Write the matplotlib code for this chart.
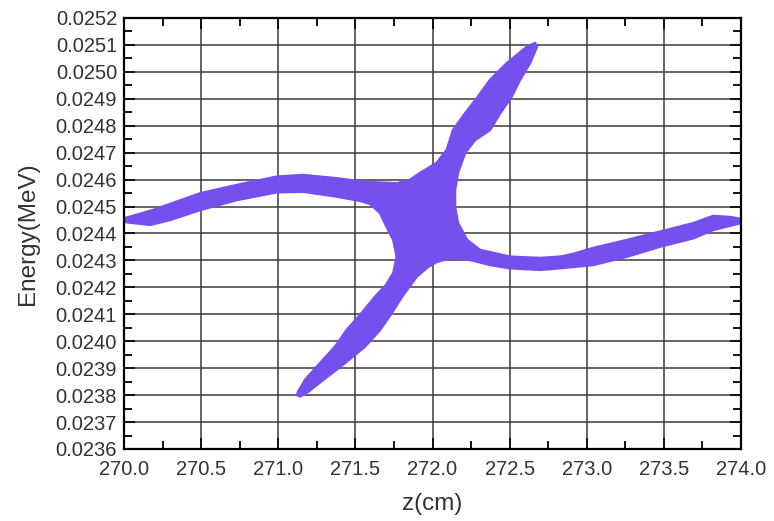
import matplotlib
matplotlib.use("Agg")
import matplotlib.pyplot as plt
from matplotlib.patches import Polygon
from matplotlib.ticker import MultipleLocator, FormatStrFormatter

plt.rcParams['font.family'] = ['Liberation Sans', 'DejaVu Sans']

# outline of the beam's phase-space distribution, traced around the shape:
# left arm top -> upper arm -> right arm -> lower arm -> left arm bottom
z_edge = [270.000, 270.188, 270.493, 270.731, 270.990, 271.162, 271.379, 271.551,
          271.768, 271.854, 271.919, 272.027, 272.092, 272.113, 272.133, 272.211,
          272.295, 272.373, 272.481, 272.611, 272.665,
          272.677, 272.632, 272.567, 272.513, 272.438, 272.373, 272.276, 272.211,
          272.165, 272.146, 272.146, 272.165, 272.224, 272.308, 272.502, 272.697,
          272.827, 272.911, 273.041, 273.261, 273.475, 273.689, 273.819, 273.929,
          274.000,
          274.000, 273.896, 273.819, 273.689, 273.475, 273.261, 273.041, 272.827,
          272.697, 272.502, 272.373, 272.243, 272.113, 272.027, 271.971,
          271.898, 271.802, 271.736, 271.660, 271.562, 271.433, 271.290, 271.193,
          271.141, 271.122,
          271.128, 271.173, 271.271, 271.368, 271.444, 271.541, 271.627, 271.699,
          271.746, 271.768, 271.746, 271.703, 271.660, 271.595, 271.530,
          271.379, 271.162, 270.990, 270.731, 270.493, 270.298, 270.169, 270.000]
e_edge = [0.024456, 0.024487, 0.024549, 0.024580, 0.024611, 0.024617, 0.024605, 0.024592,
          0.024586, 0.024599, 0.024625, 0.024662, 0.024710, 0.024747, 0.024784, 0.024846,
          0.024908, 0.024970, 0.025032, 0.025093, 0.025107,
          0.025093, 0.025032, 0.024970, 0.024908, 0.024846, 0.024784, 0.024747, 0.024699,
          0.024625, 0.024562, 0.024498, 0.024439, 0.024376, 0.024339, 0.024314, 0.024309,
          0.024314, 0.024324, 0.024346, 0.024376, 0.024407, 0.024438, 0.024465, 0.024461,
          0.024454,
          0.024439, 0.024424, 0.024413, 0.024382, 0.024351, 0.024314, 0.024283, 0.024271,
          0.024265, 0.024271, 0.024283, 0.024302, 0.024309, 0.024294, 0.024276,
          0.024240, 0.024165, 0.024105, 0.024042, 0.023980, 0.023919, 0.023856, 0.023812,
          0.023795, 0.023800,
          0.023812, 0.023856, 0.023919, 0.023980, 0.024042, 0.024105, 0.024165, 0.024209,
          0.024253, 0.024313, 0.024376, 0.024424, 0.024476, 0.024510, 0.024521,
          0.024537, 0.024555, 0.024553, 0.024524, 0.024487, 0.024450, 0.024432, 0.024443]

fig = plt.figure(figsize=(7.74, 5.21), dpi=100)
ax = fig.add_axes([0.1602, 0.1382, 0.7972, 0.8273])

beam = Polygon(list(zip(z_edge, e_edge)), closed=True, facecolor='#7650ee',
               edgecolor='#7650ee', linewidth=1.8, joinstyle='round', zorder=2)
ax.add_patch(beam)

ax.set_xlim(270.0, 274.0)
ax.set_ylim(0.0236, 0.0252)
ax.xaxis.set_major_locator(MultipleLocator(0.5))
ax.xaxis.set_minor_locator(MultipleLocator(0.25))
ax.yaxis.set_major_locator(MultipleLocator(0.0001))
ax.yaxis.set_minor_locator(MultipleLocator(0.00005))
ax.xaxis.set_major_formatter(FormatStrFormatter('%.1f'))
ax.yaxis.set_major_formatter(FormatStrFormatter('%.4f'))

ax.grid(True, which='major', color='#3a3a3a', linewidth=1.1)
ax.tick_params(which='both', direction='in', top=True, right=True,
               colors='#111111', labelcolor='#333333', width=1.4)
ax.tick_params(which='major', length=8, labelsize=14.5)
ax.tick_params(axis='x', which='major', pad=8)
ax.tick_params(axis='y', which='major', pad=5)
ax.tick_params(which='minor', length=6)
for s in ax.spines.values():
    s.set_linewidth(1.6)

ax.set_xlabel('z(cm)', fontsize=17.5, color='#333333', labelpad=10)
ax.set_ylabel('Energy(MeV)', fontsize=17.5, color='#333333', labelpad=12)

fig.savefig('out.png', dpi=100, facecolor='white')
